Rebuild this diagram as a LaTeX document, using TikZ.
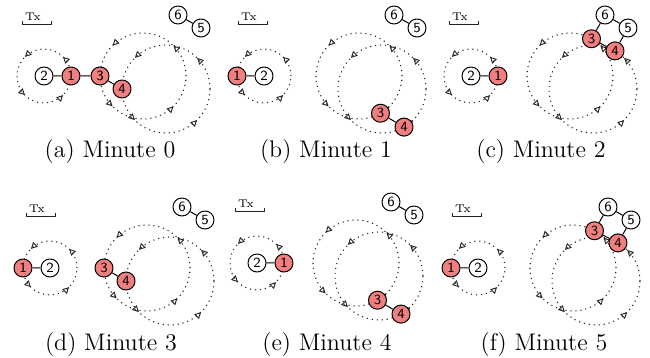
\documentclass[tikz,border=0pt]{standalone}
\usetikzlibrary{calc,arrows.meta,decorations.markings}
\definecolor{FigureRed}{HTML}{F08080}
\definecolor{FigureInk}{HTML}{222222}
\tikzset{
  orbit/.style={FigureInk,line width=0.55pt,dash pattern=on 0.55pt off 1.95pt,
    postaction={decorate,decoration={markings,
      mark=between positions 0.125 and 0.875 step 0.25 with {\arrow[solid]{Triangle[open,length=3.2pt,width=3.2pt,line width=0.45pt]}}}}},
  peer/.style={circle,draw,line width=0.5pt,minimum size=9pt,inner sep=0pt,font=\sffamily\scriptsize},
  hot/.style={peer,fill=FigureRed},
  cold/.style={peer,fill=white},
  link/.style={line width=0.5pt},
  txbar/.style={FigureInk,line width=0.4pt},
  txlabel/.style={inner sep=0pt,font=\fontsize{5.6}{6}\selectfont},
  caption/.style={inner sep=0pt,font=\large}
}
\begin{document}
\begin{tikzpicture}[x=0.5pt,y=0.5pt,line join=round]
  \useasboundingbox (0,0) rectangle (650,-358);
  % (a) minute 0
  \begin{scope}[shift={(143,-76)}]
    \coordinate (aA) at (0,0);\coordinate (aB) at (23,-13);\coordinate (aS) at (-99,0);
    \draw[orbit] (aS) circle[radius=27];\draw[orbit] (aA) circle[radius=43];\draw[orbit] (aB) circle[radius=44];
    \draw[txbar] (-121,55)--(-121,52)--(-92,52)--(-92,55);\node[txlabel] (atx) at (-110,59) {Tx};
    \node[cold] (a2) at (aS) {2};\node[hot] (a1) at ($(aS)+(27,0)$) {1};
    \node[hot] (a3) at ($(aA)+(180:43)$) {3};\node[hot] (a4) at ($(aB)+(180:44)$) {4};
    \node[cold] (a6) at (35,61) {6};\node[cold] (a5) at (58,48) {5};
    \draw[link] (a2)--(a1) (a1)--(a3) (a3)--(a4) (a6)--(a5);
  \end{scope}
  \node[caption] (capa) at (110,-152) {(a) Minute 0};
  % (b) minute 1
  \begin{scope}[shift={(359,-76)}]
    \coordinate (bA) at (0,0);\coordinate (bB) at (23,-13);\coordinate (bS) at (-95,0);
    \draw[orbit] (bS) circle[radius=27];\draw[orbit] (bA) circle[radius=43];\draw[orbit] (bB) circle[radius=44];
    \draw[txbar] (-121,55)--(-121,52)--(-92,52)--(-92,55);\node[txlabel] (btx) at (-110,59) {Tx};
    \node[cold] (b2) at (bS) {2};\node[hot] (b1) at ($(bS)+(-27,0)$) {1};
    \node[hot] (b3) at ($(bA)+(300:43)$) {3};\node[hot] (b4) at ($(bB)+(300:44)$) {4};
    \node[cold] (b6) at (35,61) {6};\node[cold] (b5) at (58,48) {5};
    \draw[link] (b1)--(b2) (b3)--(b4) (b6)--(b5);
  \end{scope}
  \node[caption] (capb) at (326,-152) {(b) Minute 1};
  % (c) minute 2
  \begin{scope}[shift={(570,-76)}]
    \coordinate (cA) at (0,0);\coordinate (cB) at (23,-13);\coordinate (cS) at (-99,0);
    \draw[orbit] (cS) circle[radius=27];\draw[orbit] (cA) circle[radius=43];\draw[orbit] (cB) circle[radius=44];
    \draw[txbar] (-121,55)--(-121,52)--(-92,52)--(-92,55);\node[txlabel] (ctx) at (-110,59) {Tx};
    \node[cold] (c2) at (cS) {2};\node[hot] (c1) at ($(cS)+(27,0)$) {1};
    \node[hot] (c3) at ($(cA)+(60:43)$) {3};\node[hot] (c4) at ($(cB)+(60:44)$) {4};
    \node[cold] (c6) at (35,61) {6};\node[cold] (c5) at (58,48) {5};
    \draw[link] (c2)--(c1) (c3)--(c4) (c3)--(c6) (c6)--(c5) (c5)--(c4);
  \end{scope}
  \node[caption] (capc) at (541,-152) {(c) Minute 2};
  % (d) minute 3
  \begin{scope}[shift={(147,-268)}]
    \coordinate (dA) at (0,0);\coordinate (dB) at (23,-13);\coordinate (dS) at (-97,0);
    \draw[orbit] (dS) circle[radius=27];\draw[orbit] (dA) circle[radius=43];\draw[orbit] (dB) circle[radius=44];
    \draw[txbar] (-121,55)--(-121,52)--(-92,52)--(-92,55);\node[txlabel] (dtx) at (-110,59) {Tx};
    \node[cold] (d2) at (dS) {2};\node[hot] (d1) at ($(dS)+(-27,0)$) {1};
    \node[hot] (d3) at ($(dA)+(180:43)$) {3};\node[hot] (d4) at ($(dB)+(180:44)$) {4};
    \node[cold] (d6) at (35,61) {6};\node[cold] (d5) at (58,48) {5};
    \draw[link] (d1)--(d2) (d3)--(d4) (d6)--(d5);
  \end{scope}
  \node[caption] (capd) at (111,-345) {(d) Minute 3};
  % (e) minute 4
  \begin{scope}[shift={(356,-263)}]
    \coordinate (eA) at (0,0);\coordinate (eB) at (23,-13);\coordinate (eS) at (-99,0);
    \draw[orbit] (eS) circle[radius=27];\draw[orbit] (eA) circle[radius=43];\draw[orbit] (eB) circle[radius=44];
    \draw[txbar] (-121,55)--(-121,52)--(-92,52)--(-92,55);\node[txlabel] (etx) at (-110,59) {Tx};
    \node[cold] (e2) at (eS) {2};\node[hot] (e1) at ($(eS)+(27,0)$) {1};
    \node[hot] (e3) at ($(eA)+(300:43)$) {3};\node[hot] (e4) at ($(eB)+(300:44)$) {4};
    \node[cold] (e6) at (35,61) {6};\node[cold] (e5) at (58,48) {5};
    \draw[link] (e2)--(e1) (e3)--(e4) (e6)--(e5);
  \end{scope}
  \node[caption] (cape) at (327,-345) {(e) Minute 4};
  % (f) minute 5
  \begin{scope}[shift={(573,-268)}]
    \coordinate (fA) at (0,0);\coordinate (fB) at (23,-13);\coordinate (fS) at (-95,0);
    \draw[orbit] (fS) circle[radius=27];\draw[orbit] (fA) circle[radius=43];\draw[orbit] (fB) circle[radius=44];
    \draw[txbar] (-121,55)--(-121,52)--(-92,52)--(-92,55);\node[txlabel] (ftx) at (-110,59) {Tx};
    \node[cold] (f2) at (fS) {2};\node[hot] (f1) at ($(fS)+(-27,0)$) {1};
    \node[hot] (f3) at ($(fA)+(60:43)$) {3};\node[hot] (f4) at ($(fB)+(60:44)$) {4};
    \node[cold] (f6) at (35,61) {6};\node[cold] (f5) at (58,48) {5};
    \draw[link] (f1)--(f2) (f3)--(f4) (f3)--(f6) (f6)--(f5) (f5)--(f4);
  \end{scope}
  \node[caption] (capf) at (544,-345) {(f) Minute 5};
\end{tikzpicture}
\end{document}
